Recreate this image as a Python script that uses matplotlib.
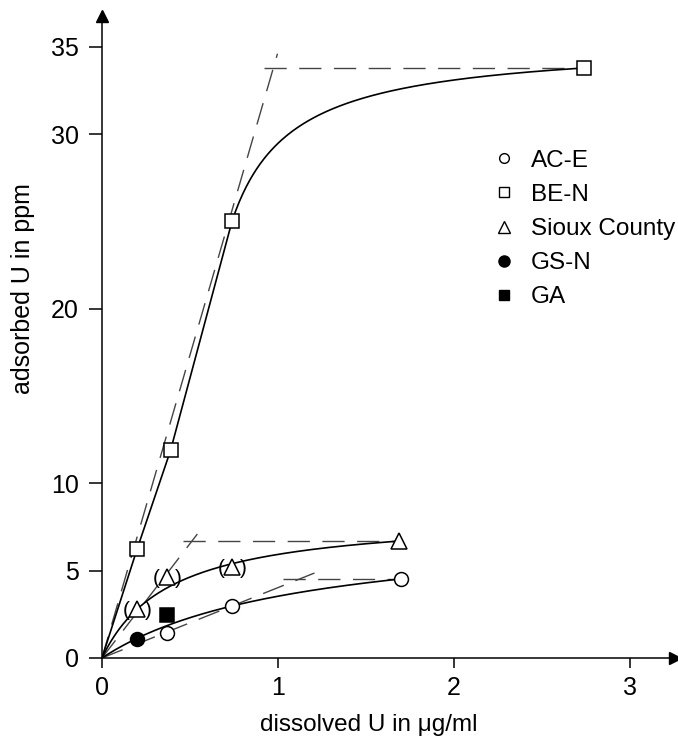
import numpy as np
import matplotlib
matplotlib.use('Agg')
import matplotlib.pyplot as plt
from matplotlib.lines import Line2D

plt.rcParams['font.family'] = ['Liberation Sans', 'DejaVu Sans']

# measured points (dissolved U, adsorbed U)
acE_x = [0.37, 0.74, 1.70]
acE_y = [1.43, 2.98, 4.52]
beN_x = [0.20, 0.39, 0.74, 2.74]
beN_y = [6.25, 11.9, 25.05, 33.8]
sioux_x = [0.20, 0.37, 0.74, 1.69]
sioux_y = [2.8, 4.65, 5.2, 6.7]
sioux_uncertain = [True, True, True, False]
gsN_x = [0.20]
gsN_y = [1.09]
ga_x = [0.37]
ga_y = [2.46]

# fitted curves: langmuir type  y = s*x/(1+K*x)
sioux_fit = (21.2, 2.573)
acE_fit = (6.644, 0.878)
beN_bend = (30.0, 2.93)   # bend after the 3rd BE-N point

# dashed tangents: initial slope, plateau
beN_tan = (34.7, 33.8)
sioux_tan = (13.1, 6.7)
acE_tan = (4.03, 4.52)

fig = plt.figure(figsize=(6.78, 7.37), dpi=100)
ax = fig.add_axes([0.1504, 0.1072, 0.845, 0.871])

ax.set_xlim(0, 3.256)
ax.set_ylim(0, 36.77)

lw_ax = 1.1
for s in ['top', 'right']:
    ax.spines[s].set_visible(False)
for s in ['left', 'bottom']:
    ax.spines[s].set_linewidth(lw_ax)
ax.plot(1, 0, marker='>', ms=8, color='black', transform=ax.transAxes, clip_on=False)
ax.plot(0, 1, marker='^', ms=8, color='black', transform=ax.transAxes, clip_on=False)

ax.set_xticks([0, 1, 2, 3])
ax.set_yticks([0, 5, 10, 20, 30, 35])
ax.tick_params(axis='x', length=7, width=lw_ax, pad=6, labelsize=18)
ax.tick_params(axis='y', length=9.5, width=lw_ax, pad=7, labelsize=18)

ax.set_xlabel('dissolved U in \u03bcg/ml', fontsize=17.5, va='center')
ax.set_ylabel('adsorbed U in ppm', fontsize=18, va='center')
ax.xaxis.set_label_coords(0.465, -0.104)
ax.yaxis.set_label_coords(-0.138, 0.576)

# dashed tangent lines
dash_kw = dict(color='#444444', lw=1.0, dashes=(16, 9))
for (slope, plat), x_end, over_y, over_x in [(beN_tan, 2.74, 1.024, 0.055),
                                            (sioux_tan, 1.69, 1.06, 0.05),
                                            (acE_tan, 1.70, 1.077, 0.09)]:
    xt = plat * over_y / slope
    ax.plot([0, xt], [0, slope * xt], **dash_kw)
    ax.plot([plat / slope - over_x, x_end], [plat, plat], **dash_kw)

# solid fitted curves
ck = dict(color='black', lw=1.2)
s, K = sioux_fit
xx = np.linspace(0, sioux_x[-1], 200)
ax.plot(xx, s * xx / (1 + K * xx), **ck)
s, K = acE_fit
xx = np.linspace(0, acE_x[-1], 200)
ax.plot(xx, s * xx / (1 + K * xx), **ck)
ax.plot([0] + beN_x[:3], [0] + beN_y[:3], **ck)
s, K = beN_bend
dx = np.linspace(0, beN_x[-1] - beN_x[2], 200)
ax.plot(beN_x[2] + dx, beN_y[2] + s * dx / (1 + K * dx), **ck)

# points
mk = dict(linestyle='none', markeredgecolor='black', markeredgewidth=1.1, zorder=5)
ax.plot(acE_x, acE_y, marker='o', ms=10, markerfacecolor='white', **mk)
ax.plot(beN_x, beN_y, marker='s', ms=10.5, markerfacecolor='white', **mk)
ax.plot(sioux_x, sioux_y, marker='^', ms=11, markerfacecolor='white', **mk)
ax.plot(gsN_x, gsN_y, marker='o', ms=10, markerfacecolor='black', **mk)
ax.plot(ga_x, ga_y, marker='s', ms=9.5, markerfacecolor='black', **mk)

for x, y, unc in zip(sioux_x, sioux_y, sioux_uncertain):
    if unc:
        ax.annotate('(', (x, y), xytext=(-8, -1), textcoords='offset points',
                    ha='center', va='center', fontsize=15, zorder=6)
        ax.annotate(')', (x, y), xytext=(8, -1), textcoords='offset points',
                    ha='center', va='center', fontsize=15, zorder=6)

handles = [
    Line2D([], [], marker='o', ls='none', ms=7, mfc='white', mec='black', mew=1),
    Line2D([], [], marker='s', ls='none', ms=7, mfc='white', mec='black', mew=1),
    Line2D([], [], marker='^', ls='none', ms=8, mfc='white', mec='black', mew=1),
    Line2D([], [], marker='o', ls='none', ms=8, mfc='black', mec='black', mew=1),
    Line2D([], [], marker='s', ls='none', ms=7, mfc='black', mec='black', mew=1),
]
labels = ['AC-E', 'BE-N', 'Sioux County', 'GS-N', 'GA']
fig.legend(handles, labels, loc='upper left', bbox_to_anchor=(0.713, 0.81),
           frameon=False, fontsize=17.5, handlelength=0.9, handletextpad=0.65,
           labelspacing=0.5, borderaxespad=0)

fig.savefig('out.png', dpi=100)
